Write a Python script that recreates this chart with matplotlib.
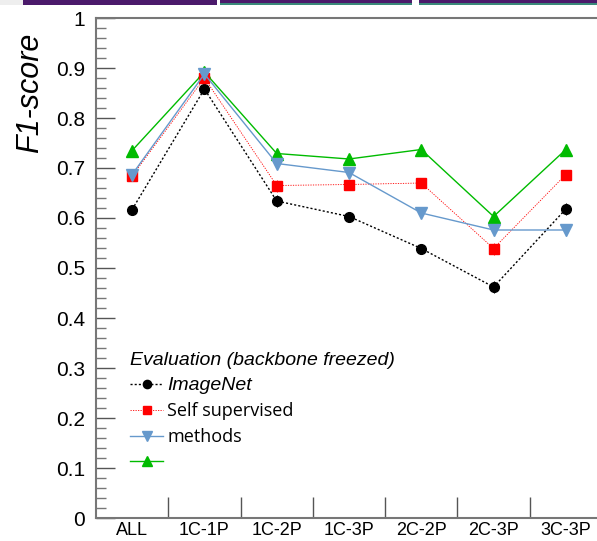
import matplotlib.pyplot as plt
from matplotlib.patches import Rectangle
from matplotlib.ticker import MultipleLocator, FuncFormatter

plt.rcParams['font.family'] = ['Liberation Sans', 'DejaVu Sans']

categories = ['ALL', '1C-1P', '1C-2P', '1C-3P', '2C-2P', '2C-3P', '3C-3P']

imagenet = [0.617, 0.858, 0.634, 0.603, 0.539, 0.462, 0.618]
imagenet_err = [0.0, 0.0, 0.012, 0.008, 0.010, 0.012, 0.012]

self_sup = [0.684, 0.880, 0.665, 0.667, 0.670, 0.539, 0.687]
self_sup_err = [0.0, 0.0, 0.012, 0.0, 0.0, 0.012, 0.0]

methods = [0.687, 0.888, 0.709, 0.691, 0.610, 0.576, 0.576]
methods_err = [0.0, 0.0, 0.0, 0.0, 0.0, 0.012, 0.012]

fourth = [0.735, 0.892, 0.729, 0.718, 0.737, 0.603, 0.737]

legend_title = 'Evaluation (backbone freezed)'
labels = ['ImageNet', 'Self supervised', 'methods', ' ']

fig = plt.figure(figsize=(5.97, 5.41), dpi=100)
ax = fig.add_axes([96 / 597, 23 / 541, 506 / 597, 500 / 541])

x = list(range(len(categories)))

h1 = ax.errorbar(x, imagenet, yerr=imagenet_err, color='black', marker='o', ms=7,
                 ls=(0, (1.5, 1.5)), lw=1, elinewidth=0.8, capsize=0)
h2 = ax.errorbar(x, self_sup, yerr=self_sup_err, color='#ff0000', marker='s', ms=7,
                 ls=(0, (1.5, 1.5)), lw=0.6, elinewidth=0.6, capsize=0)
h3 = ax.errorbar(x, methods, yerr=methods_err, color='#6699cc', marker='v', ms=8,
                 ls='-', lw=1, elinewidth=0.8, capsize=0)
h4, = ax.plot(x, fourth, color='#00bb00', marker='^', ms=8, ls='-', lw=1)

ax.set_xlim(-0.5, 6.5)
ax.set_ylim(0, 1)

ax.set_xticks(x)
ax.set_xticklabels(categories, fontsize=13)
ax.set_xticks([i + 0.5 for i in range(6)], minor=True)
ax.tick_params(axis='x', which='major', length=0, pad=3)
ax.tick_params(axis='x', which='minor', direction='in', length=15, width=1, color='#555555')


def yfmt(v, pos):
    if abs(v) < 1e-9:
        return '0'
    if abs(v - 1) < 1e-9:
        return '1'
    return '%.1f' % v


ax.yaxis.set_major_locator(MultipleLocator(0.1))
ax.yaxis.set_minor_locator(MultipleLocator(0.02))
ax.yaxis.set_major_formatter(FuncFormatter(yfmt))
ax.tick_params(axis='y', which='major', direction='in', length=14, width=1,
               color='#555555', pad=8, labelsize=15)
ax.tick_params(axis='y', which='minor', direction='in', length=7, width=1, color='#777777')

for side in ['left', 'bottom', 'top', 'right']:
    ax.spines[side].set_color('#777777')
    ax.spines[side].set_linewidth(1.5)

fig.text(0.05, 0.828, 'F1-score', rotation=90, fontsize=22, style='italic',
         ha='center', va='center')

# legend handles without the error bar ticks
leg = ax.legend([h1[0], h2[0], h3[0], h4], labels, title=legend_title, loc='upper left',
                bbox_to_anchor=(0.05, 0.35), frameon=False, fontsize=13,
                alignment='left', handlelength=1.8, handletextpad=0.25,
                labelspacing=0.45, borderpad=0, markerscale=0.85,
                title_fontproperties={'size': 14, 'style': 'italic'})
texts = leg.get_texts()
texts[0].set_style('italic')
texts[0].set_fontsize(14)
texts[1].set_family(['Open Sans', 'DejaVu Sans'])
texts[2].set_family(['Open Sans', 'DejaVu Sans'])

# cropped strip of another figure along the top edge
h = 5 / 541
fig.add_artist(Rectangle((0, 1 - h), 23 / 597, h, transform=fig.transFigure,
                         color='#eeeeee', lw=0))
fig.add_artist(Rectangle((23 / 597, 1 - h), 194 / 597, h, transform=fig.transFigure,
                         color='#4b1a6b', lw=0))
fig.add_artist(Rectangle((220 / 597, 1 - h), 192 / 597, h, transform=fig.transFigure,
                         color='#4b1a6b', lw=0))
fig.add_artist(Rectangle((220 / 597, 1 - h), 192 / 597, 1.5 / 541, transform=fig.transFigure,
                         color='#3a8a7a', lw=0))
fig.add_artist(Rectangle((419 / 597, 1 - h), 178 / 597, h, transform=fig.transFigure,
                         color='#4b1a6b', lw=0))
fig.add_artist(Rectangle((419 / 597, 1 - h), 178 / 597, 1.5 / 541, transform=fig.transFigure,
                         color='#3a8a7a', lw=0))

plt.savefig('out.png', dpi=100)
